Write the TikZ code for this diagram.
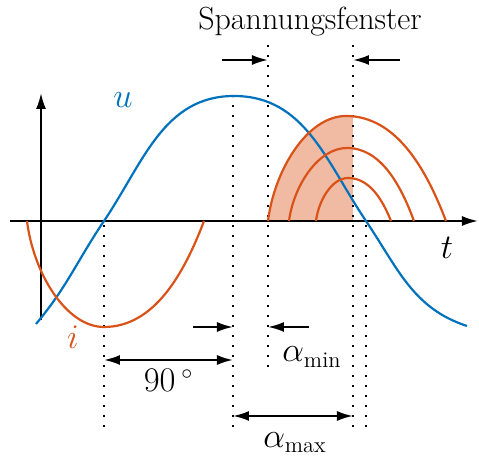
\documentclass[tikz,border=0pt]{standalone}
\usepackage{amsmath}
\usepackage{tikz}
\usetikzlibrary{arrows.meta}
\definecolor{ublue}{HTML}{0072BD}
\definecolor{iorange}{HTML}{D95319}
\tikzset{
  axis/.style={line width=1pt,-{Latex[length=8pt,width=5pt]}},
  marker/.style={line width=1.1pt,dash pattern=on 1.1pt off 3.9pt},
  pointer/.style={line width=1pt,-{Latex[length=8pt,width=5pt]}},
  span/.style={line width=1pt,{Latex[length=8pt,width=5pt]}-{Latex[length=8pt,width=5pt]}},
  wave/.style={line width=1.1pt}
}
% current pulse: start, peak x, peak height, end
\newcommand{\pulse}[4]{(#1,0)
  .. controls +({0.08*(#2-#1)},{0.48*#3}) and +({-0.5*(#2-#1)},0) .. (#2,#3)
  .. controls +({0.5*(#4-#2)},0) and +({-0.2*(#4-#2)},{0.5*#3}) .. (#4,0)}

\begin{document}
\begin{tikzpicture}[x=5pt,y=5pt,font=\fontsize{16}{19}\selectfont]
  \useasboundingbox (-4.1,-23.8) rectangle (43.8,22.1);
  % shaded part of the biggest current pulse (inside the window)
  \begin{scope}
    \clip (22.7,0) rectangle (31.2,11);
    \fill[iorange!40] \pulse{22.7}{30.5}{10.5}{40.5} -- cycle;
  \end{scope}
  % axes
  \draw[axis] (-3.1,0) -- (43.7,0);
  \draw[axis] (0,-9.9) -- (0,12.8);
  \node (t) at (40.6,-2.7) {$t$};
  % marker lines
  \coordinate (m1b) at (6.3,-20.6);   \coordinate (m1t) at (6.3,0);
  \coordinate (m2b) at (19.2,-20.6);  \coordinate (m2t) at (19.2,12.4);
  \coordinate (m3b) at (22.7,-14.6);  \coordinate (m3t) at (22.7,17.6);
  \coordinate (m4b) at (31.2,-20.6);  \coordinate (m4t) at (31.2,17.6);
  \coordinate (m5b) at (32.5,-20.6);  \coordinate (m5t) at (32.5,0);
  \foreach \m in {1,...,5}
    \draw[marker] (m\m b) -- (m\m t);
  % voltage
  \draw[wave,ublue] (-0.5,-10.3) to[out=50,in=-124] (6.3,0)
    to[out=56,in=180] (19.3,12.5) to[out=0,in=124] (32.5,0)
    to[out=-56,in=162] (42.6,-10.5);
  \node[ublue] (u) at (8.2,12.1) {$u$};
  % currents
  \draw[wave,iorange] \pulse{-1.4}{6.3}{-10.6}{16.3};
  \node[iorange] (i) at (3.2,-11.6) {$i$};
  \draw[wave,iorange] \pulse{22.7}{30.5}{10.5}{40.5};
  \draw[wave,iorange] \pulse{24.8}{30.6}{7.3}{37.3};
  \draw[wave,iorange] \pulse{27.5}{30.7}{4.3}{35.0};
  % window
  \node (win) at (26.9,19.9) {Spannungsfenster};
  \coordinate (wl) at (18.1,16.1);
  \coordinate (wr) at (35.9,16.1);
  \draw[pointer] (wl) -- (wl -| m3t);
  \draw[pointer] (wr) -- (wr -| m4t);
  % alpha min
  \coordinate (al) at (15.2,-10.6);
  \coordinate (ar) at (26.8,-10.6);
  \draw[pointer] (al) -- (al -| m2t);
  \draw[pointer] (ar) -- (ar -| m3t);
  \node (amin) at (27.1,-13.6) {$\alpha_{\text{min}}$};
  % 90 degrees and alpha max
  \coordinate (n1) at (6.3,-13.9);
  \draw[span] (n1) -- (n1 -| m2t) node[midway,below=1pt] (deg) {$90\,^\circ$};
  \coordinate (x1) at (19.2,-19.5);
  \draw[span] (x1) -- (x1 -| m4t);
  \node (amax) at (25.4,-22.2) {$\alpha_{\text{max}}$};
\end{tikzpicture}
\end{document}
